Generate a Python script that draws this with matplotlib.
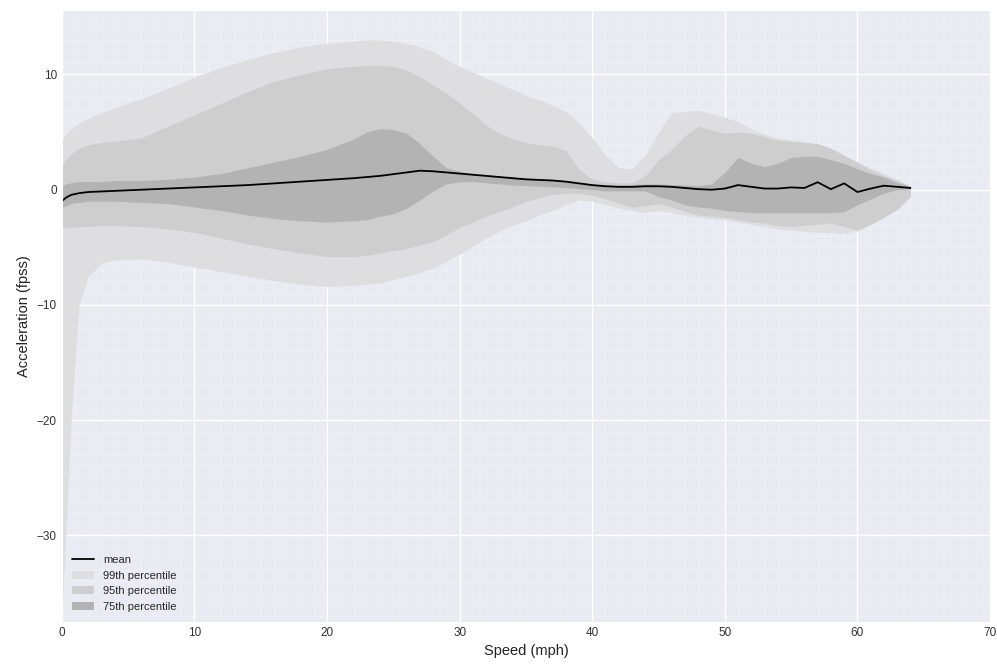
import matplotlib
matplotlib.use('Agg')
import matplotlib.pyplot as plt
import seaborn as sns
from matplotlib.ticker import MultipleLocator

speed = [0, 0.3, 0.7, 1.3, 2, 3, 4, 6, 8, 10, 12, 14, 16, 18, 20, 22, 23, 24, 25, 26,
         27, 28, 29, 30, 31, 32, 33, 34, 35, 36, 37, 38, 39, 40, 41, 42, 43, 44, 45, 46,
         47, 48, 49, 50, 51, 52, 53, 54, 55, 56, 57, 58, 59, 60, 61, 62, 63, 64]

mean = [-1.0, -0.7, -0.45, -0.3, -0.2, -0.15, -0.1, 0.0, 0.1, 0.2, 0.3, 0.4, 0.55, 0.7, 0.85, 1.0, 1.1, 1.2, 1.35, 1.5,
        1.65, 1.6, 1.5, 1.4, 1.3, 1.2, 1.1, 1.0, 0.9, 0.85, 0.8, 0.7, 0.55, 0.4, 0.3, 0.25, 0.25, 0.3, 0.3, 0.25,
        0.15, 0.05, 0.0, 0.1, 0.4, 0.25, 0.1, 0.1, 0.2, 0.15, 0.65, 0.05, 0.55, -0.2, 0.1, 0.35, 0.25, 0.15]

p99_hi = [4.3, 4.8, 5.3, 5.8, 6.2, 6.7, 7.1, 7.9, 8.8, 9.8, 10.6, 11.3, 11.9, 12.4, 12.7, 12.9, 13.0, 13.0, 12.9, 12.7,
          12.4, 12.0, 11.3, 10.7, 10.2, 9.7, 9.2, 8.7, 8.2, 7.8, 7.3, 6.8, 5.8, 4.5, 3.0, 1.9, 1.8, 3.0, 5.0, 6.7,
          6.8, 6.9, 6.6, 6.3, 5.9, 5.3, 4.8, 4.5, 4.3, 4.2, 3.9, 3.4, 2.9, 2.4, 1.9, 1.4, 0.9, 0.3]
p99_lo = [-37.5, -30, -20, -10, -7.5, -6.4, -6.1, -6.0, -6.3, -6.7, -7.1, -7.5, -7.9, -8.2, -8.4, -8.3, -8.2, -8.1, -7.8, -7.5,
          -7.2, -6.8, -6.2, -5.6, -4.9, -4.2, -3.6, -3.1, -2.7, -2.2, -1.8, -1.3, -0.9, -1.0, -1.3, -1.6, -1.8, -2.0, -1.8, -2.0,
          -2.2, -2.4, -2.5, -2.6, -2.8, -3.0, -3.2, -3.4, -3.5, -3.6, -3.7, -3.7, -3.8, -3.6, -3.0, -2.3, -1.5, -0.6]

p95_hi = [2.0, 2.6, 3.1, 3.6, 3.9, 4.1, 4.2, 4.5, 5.5, 6.5, 7.5, 8.5, 9.4, 10.0, 10.5, 10.7, 10.8, 10.8, 10.7, 10.4,
          9.8, 9.1, 8.4, 7.5, 6.6, 5.6, 4.9, 4.4, 4.1, 3.9, 3.8, 3.4, 1.8, 0.9, 0.7, 0.6, 0.6, 1.2, 2.6, 3.5,
          4.7, 5.5, 5.2, 4.9, 5.0, 4.9, 4.6, 4.3, 4.2, 4.1, 4.0, 3.6, 3.0, 2.4, 1.7, 1.2, 0.8, 0.3]
p95_lo = [-3.3, -3.3, -3.3, -3.2, -3.2, -3.1, -3.1, -3.2, -3.4, -3.7, -4.2, -4.7, -5.1, -5.5, -5.8, -5.8, -5.7, -5.5, -5.3, -5.1,
          -4.8, -4.5, -3.9, -3.3, -2.8, -2.3, -1.9, -1.5, -1.0, -0.7, -0.4, -0.3, -0.3, -0.5, -0.8, -1.2, -1.5, -1.4, -1.2, -1.5,
          -1.9, -2.2, -2.3, -2.4, -2.6, -2.8, -2.9, -3.1, -3.2, -3.1, -3.0, -2.9, -3.2, -3.5, -3.0, -2.4, -1.7, -0.6]

p75_hi = [0.3, 0.5, 0.6, 0.7, 0.7, 0.7, 0.8, 0.8, 0.9, 1.1, 1.4, 1.9, 2.4, 2.9, 3.5, 4.4, 5.0, 5.3, 5.2, 4.9,
          4.0, 2.9, 1.9, 1.6, 1.4, 1.3, 1.2, 1.1, 1.0, 0.95, 0.9, 0.8, 0.65, 0.5, 0.45, 0.4, 0.45, 0.5, 0.5, 0.45,
          0.4, 0.35, 0.5, 1.5, 2.8, 2.3, 2.0, 2.3, 2.8, 2.9, 2.9, 2.6, 2.3, 1.8, 1.4, 1.1, 0.6, 0.3]
p75_lo = [-1.5, -1.4, -1.2, -1.1, -1.0, -1.0, -1.0, -1.1, -1.2, -1.5, -1.8, -2.2, -2.5, -2.7, -2.8, -2.7, -2.6, -2.3, -2.1, -1.6,
          -0.9, -0.1, 0.5, 0.7, 0.7, 0.6, 0.5, 0.4, 0.35, 0.3, 0.25, 0.2, 0.1, 0.0, -0.1, -0.1, -0.1, -0.1, -0.6, -0.9,
          -1.3, -1.5, -1.6, -1.8, -1.9, -2.0, -2.0, -2.0, -2.0, -2.0, -2.0, -2.0, -1.9, -1.3, -0.8, -0.3, 0.0, 0.1]

sns.set_style('darkgrid')
plt.rcParams['font.family'] = ['Liberation Sans', 'DejaVu Sans']

fig, ax = plt.subplots(figsize=(9.97, 6.65), dpi=100)
fig.subplots_adjust(left=0.062, right=0.993, top=0.985, bottom=0.065)

ax.fill_between(speed, p99_lo, p99_hi, color='#dedee0', lw=0, label='99th percentile')
ax.fill_between(speed, p95_lo, p95_hi, color='#cececf', lw=0, label='95th percentile')
ax.fill_between(speed, p75_lo, p75_hi, color='#b3b3b3', lw=0, label='75th percentile')
ax.plot(speed, mean, color='black', lw=1.3, label='mean')

ax.set_xlim(0, 70)
ax.set_ylim(-37.5, 15.6)
ax.xaxis.set_major_locator(MultipleLocator(10))
ax.yaxis.set_major_locator(MultipleLocator(10))
ax.xaxis.set_minor_locator(MultipleLocator(1))
ax.yaxis.set_minor_locator(MultipleLocator(1))
ax.grid(which='major', color='white', lw=1.0)
ax.grid(which='minor', color='white', lw=0.4, alpha=0.4)
ax.tick_params(which='both', length=0, labelsize=8.5, colors='#333333')

ax.set_xlabel('Speed (mph)', fontsize=10.5, color='#222222')
ax.set_ylabel('Acceleration (fpss)', fontsize=10.5, color='#222222')

h, l = ax.get_legend_handles_labels()
order = [3, 0, 1, 2]
ax.legend([h[i] for i in order], [l[i] for i in order], loc='lower left',
          fontsize=8, frameon=False)

fig.savefig('out.png', dpi=100)
